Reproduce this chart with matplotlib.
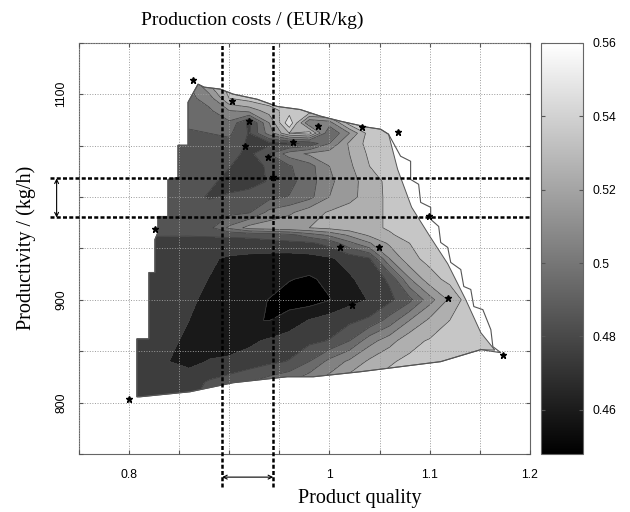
import numpy as np
import matplotlib.pyplot as plt
from matplotlib.patches import Polygon
from matplotlib.colors import Normalize
import matplotlib.cm as cm

# grid of the cost map (product quality x productivity)
quality = [0.80, 0.82, 0.84, 0.86, 0.88, 0.90, 0.92, 0.94, 0.96, 0.98,
           1.00, 1.02, 1.04, 1.06, 1.08, 1.10, 1.12, 1.14, 1.16, 1.18]
productivity = [800, 820, 840, 860, 880, 900, 920, 940, 955, 963, 970, 985,
                1000, 1015, 1030, 1042, 1052, 1062, 1072, 1084, 1096, 1110, 1120]

# production costs in EUR/kg, one row per productivity value
cost = [
    [0.479, 0.477, 0.475, 0.479, 0.484, 0.488, 0.493, 0.498, 0.503, 0.511, 0.518, 0.528, 0.532, 0.535, 0.536, 0.537, 0.538, 0.538, 0.538, 0.538],
    [0.477, 0.474, 0.472, 0.476, 0.481, 0.485, 0.490, 0.495, 0.500, 0.508, 0.515, 0.526, 0.530, 0.533, 0.535, 0.536, 0.537, 0.538, 0.538, 0.538],
    [0.476, 0.4735, 0.470, 0.467, 0.4705, 0.4715, 0.474, 0.4775, 0.4805, 0.490, 0.503, 0.512, 0.522, 0.529, 0.532, 0.534, 0.536, 0.537, 0.538, 0.538],
    [0.477, 0.475, 0.472, 0.468, 0.466, 0.466, 0.468, 0.4715, 0.475, 0.4775, 0.4805, 0.490, 0.506, 0.516, 0.527, 0.531, 0.534, 0.536, 0.537, 0.538],
    [0.478, 0.476, 0.473, 0.470, 0.465, 0.462, 0.4605, 0.4598, 0.464, 0.4705, 0.4745, 0.4775, 0.482, 0.494, 0.510, 0.522, 0.530, 0.535, 0.537, 0.538],
    [0.479, 0.4765, 0.474, 0.4715, 0.468, 0.465, 0.462, 0.4598, 0.456, 0.455, 0.4595, 0.4665, 0.4705, 0.4775, 0.487, 0.506, 0.522, 0.536, 0.538, 0.538],
    [0.480, 0.4775, 0.475, 0.473, 0.4698, 0.467, 0.4645, 0.4625, 0.4605, 0.4585, 0.4625, 0.4685, 0.4745, 0.4815, 0.509, 0.526, 0.533, 0.536, 0.538, 0.538],
    [0.481, 0.479, 0.4765, 0.474, 0.4715, 0.4685, 0.467, 0.466, 0.4655, 0.4665, 0.4685, 0.4735, 0.479, 0.510, 0.527, 0.533, 0.536, 0.538, 0.538, 0.538],
    [0.478, 0.4775, 0.477, 0.4768, 0.4765, 0.4765, 0.4768, 0.477, 0.4775, 0.478, 0.4835, 0.497, 0.509, 0.522, 0.530, 0.535, 0.537, 0.538, 0.538, 0.538],
    [0.4805, 0.4805, 0.4805, 0.4805, 0.481, 0.4815, 0.482, 0.484, 0.487, 0.495, 0.502, 0.512, 0.522, 0.529, 0.533, 0.536, 0.537, 0.538, 0.538, 0.538],
    [0.482, 0.482, 0.482, 0.483, 0.487, 0.502, 0.514, 0.516, 0.518, 0.520, 0.523, 0.526, 0.528, 0.531, 0.535, 0.537, 0.538, 0.538, 0.538, 0.538],
    [0.483, 0.483, 0.4835, 0.4845, 0.4855, 0.487, 0.489, 0.503, 0.508, 0.516, 0.521, 0.526, 0.528, 0.531, 0.535, 0.537, 0.538, 0.538, 0.538, 0.538],
    [0.484, 0.484, 0.4845, 0.4835, 0.479, 0.481, 0.485, 0.487, 0.4905, 0.497, 0.510, 0.516, 0.526, 0.532, 0.536, 0.538, 0.538, 0.538, 0.538, 0.538],
    [0.486, 0.486, 0.486, 0.4855, 0.482, 0.477, 0.475, 0.481, 0.487, 0.4955, 0.508, 0.516, 0.525, 0.533, 0.536, 0.538, 0.538, 0.538, 0.538, 0.538],
    [0.487, 0.487, 0.487, 0.487, 0.486, 0.4805, 0.4745, 0.482, 0.489, 0.496, 0.510, 0.518, 0.530, 0.535, 0.537, 0.538, 0.538, 0.538, 0.538, 0.538],
    [0.488, 0.488, 0.488, 0.487, 0.486, 0.484, 0.477, 0.490, 0.505, 0.512, 0.515, 0.520, 0.532, 0.536, 0.538, 0.538, 0.538, 0.538, 0.538, 0.538],
    [0.489, 0.489, 0.489, 0.488, 0.488, 0.487, 0.478, 0.477, 0.478, 0.482, 0.500, 0.522, 0.534, 0.537, 0.538, 0.538, 0.538, 0.538, 0.538, 0.538],
    [0.490, 0.490, 0.490, 0.489, 0.490, 0.492, 0.479, 0.505, 0.530, 0.535, 0.490, 0.510, 0.535, 0.538, 0.540, 0.540, 0.540, 0.540, 0.540, 0.540],
    [0.492, 0.492, 0.492, 0.4915, 0.4945, 0.498, 0.477, 0.510, 0.548, 0.500, 0.505, 0.535, 0.538, 0.540, 0.540, 0.540, 0.540, 0.540, 0.540, 0.540],
    [0.494, 0.494, 0.494, 0.494, 0.498, 0.510, 0.514, 0.525, 0.535, 0.538, 0.540, 0.540, 0.540, 0.540, 0.540, 0.540, 0.540, 0.540, 0.540, 0.540],
    [0.497, 0.497, 0.497, 0.497, 0.505, 0.530, 0.535, 0.538, 0.540, 0.540, 0.540, 0.540, 0.540, 0.540, 0.540, 0.540, 0.540, 0.540, 0.540, 0.540],
    [0.500, 0.500, 0.500, 0.500, 0.520, 0.535, 0.538, 0.540, 0.540, 0.540, 0.540, 0.540, 0.540, 0.540, 0.540, 0.540, 0.540, 0.540, 0.540, 0.540],
    [0.500, 0.500, 0.500, 0.500, 0.520, 0.535, 0.538, 0.540, 0.540, 0.540, 0.540, 0.540, 0.540, 0.540, 0.540, 0.540, 0.540, 0.540, 0.540, 0.540],
]

# feasible region: left side and top edge
outer_q = [0.808, 0.808, 0.820, 0.820, 0.826, 0.826, 0.829, 0.829, 0.839, 0.839,
           0.849, 0.849, 0.859, 0.859, 0.869, 0.875, 0.891, 0.904, 0.928, 0.948,
           0.971, 0.991, 1.011, 1.038, 1.051, 1.059]
outer_p = [805.6, 862, 862, 926.5, 926.5, 958.6, 965.5, 981, 981, 1017,
           1019, 1050.3, 1050.3, 1092, 1109.7, 1106.8, 1104.9, 1100, 1095, 1088,
           1085, 1078.6, 1073.7, 1067.8, 1065.9, 1061]
# stepped right-hand limit
stairs_q = [1.071, 1.081, 1.081, 1.089, 1.091, 1.101, 1.101, 1.109, 1.111, 1.118,
            1.121, 1.131, 1.134, 1.141, 1.144, 1.153, 1.161, 1.163, 1.171]
stairs_p = [1039.6, 1034.7, 1017, 1012.3, 994.7, 989.9, 978.2, 971.3, 955.7, 950.9,
            936.3, 929.4, 912.9, 910, 893.4, 890.4, 870.9, 854.4, 848.5]
# bottom edge, right to left
bottom_q = [1.151, 1.111, 1.071, 1.031, 0.984, 0.958, 0.904, 0.861, 0.811]
bottom_p = [851.5, 839.8, 834.9, 830, 825.1, 825.1, 819.3, 810.5, 805.6]
# right edge of the filled map
edge_q = [1.068, 1.082, 1.100, 1.118, 1.136, 1.151, 1.165]
edge_p = [1027, 990, 962, 935, 900, 868, 851]

# simulated operating points
points_q = [0.864, 0.903, 0.920, 0.916, 0.939, 0.944, 0.964, 0.989, 1.033,
            1.068, 1.099, 0.826, 1.011, 1.049, 1.023, 1.118, 1.173, 0.800]
points_p = [1113.5, 1093, 1073.7, 1050, 1038.6, 1019, 1053, 1069, 1068,
            1063, 981, 968.4, 951, 951, 895, 902, 846.6, 803.7]

# selected window
q_low, q_high = 0.893, 0.944
p_low, p_high = 980, 1018

serif = 'Liberation Serif'
sans = 'Liberation Sans'

fig = plt.figure(figsize=(6.3, 5.12), dpi=100)
ax = fig.add_axes([0.1249, 0.1133, 0.7163, 0.8033])

levels = [0.448, 0.46, 0.47, 0.48, 0.49, 0.50, 0.51, 0.52, 0.53, 0.54, 0.55, 0.56]
norm = Normalize(0.448, 0.56)
mids = [(a + b) / 2 for a, b in zip(levels[:-1], levels[1:])]
band_colors = plt.cm.gray(norm(mids))
band_colors[0] = (0, 0, 0, 1)
band_colors[1] = plt.cm.gray(0.1)

fill_xy = np.column_stack([outer_q + edge_q + bottom_q, outer_p + edge_p + bottom_p])
fill_shape = Polygon(fill_xy, closed=True, facecolor='none',
                     edgecolor='#555555', lw=0.7, zorder=3)
ax.add_patch(fill_shape)
limit_xy = np.column_stack([outer_q + stairs_q + bottom_q, outer_p + stairs_p + bottom_p])
ax.add_patch(Polygon(limit_xy, closed=True, facecolor='none',
                     edgecolor='#555555', lw=0.8, zorder=3))

cf = ax.contourf(quality, productivity, cost, levels=levels, colors=band_colors)
cl = ax.contour(quality, productivity, cost, levels=levels[1:-1],
                colors='#404040', linewidths=0.5)
cf.set_clip_path(fill_shape)
cl.set_clip_path(fill_shape)

ax.plot(points_q, points_p, '*', color='k', ms=5, zorder=5)

ax.set_xlim(0.75, 1.2)
ax.set_ylim(750, 1150)
ax.set_xticks(np.round(np.arange(0.75, 1.201, 0.05), 2))
ax.set_xticklabels(['', '0.8', '', '', '', '1', '', '1.1', '', '1.2'])
ax.set_yticks(np.arange(750, 1151, 50))
ax.set_yticklabels(['', '800', '', '900', '', '', '', '1100', ''],
                   rotation=90, va='center')
ax.tick_params(direction='in', length=3, top=True, right=True, color='#555555',
               labelsize=8.8)
ax.tick_params(axis='x', pad=11)
ax.tick_params(axis='y', pad=8)
for lab in ax.get_xticklabels() + ax.get_yticklabels():
    lab.set_family(sans)
ax.grid(True, ls=':', color='#9a9a9a', lw=0.7)
ax.set_axisbelow(False)
for s in ax.spines.values():
    s.set_color('#666666')
    s.set_linewidth(0.8)

# selection window, dashed lines reach outside the axes
dash = (0, (1.6, 0.9))
ax.plot([0.721, 1.2], [p_low, p_low], color='k', lw=1.8, ls=dash, clip_on=False, zorder=6)
ax.plot([0.721, 1.2], [p_high, p_high], color='k', lw=1.8, ls=dash, clip_on=False, zorder=6)
ax.plot([q_low, q_low], [718, 1150], color='k', lw=1.8, ls=dash, clip_on=False, zorder=6)
ax.plot([q_high, q_high], [718, 1150], color='k', lw=1.8, ls=dash, clip_on=False, zorder=6)
arrow = dict(arrowstyle='<->', lw=0.8, color='k', shrinkA=0, shrinkB=0,
             mutation_scale=7)
ax.annotate('', xy=(q_high, 727.5), xytext=(q_low, 727.5), arrowprops=arrow,
            annotation_clip=False)
ax.annotate('', xy=(0.728, p_high), xytext=(0.728, p_low), arrowprops=arrow,
            annotation_clip=False)

cax = fig.add_axes([541 / 630, 0.1133, 42 / 630, 0.8033])
sm = cm.ScalarMappable(norm=norm, cmap='gray')
cb = fig.colorbar(sm, cax=cax)
cb.set_ticks([0.46, 0.48, 0.50, 0.52, 0.54, 0.56])
cb.set_ticklabels(['0.46', '0.48', '0.5', '0.52', '0.54', '0.56'])
cax.tick_params(direction='in', length=3, left=True, right=True, color='#555555',
                labelsize=8.8, pad=7)
for lab in cax.get_yticklabels():
    lab.set_family(sans)
cb.outline.set_edgecolor('#666666')
cb.outline.set_linewidth(0.8)

fig.text(0.40, 0.961, 'Production costs / (EUR/kg)', family=serif, fontsize=14,
         ha='center', va='center')
fig.text(0.5714, 0.027, 'Product quality', family=serif, fontsize=14.5,
         ha='center', va='center')
fig.text(0.0413, 0.5156, 'Productivity / (kg/h)', family=serif, fontsize=14.5,
         ha='center', va='center', rotation=90)

fig.savefig('out.png', dpi=100)
